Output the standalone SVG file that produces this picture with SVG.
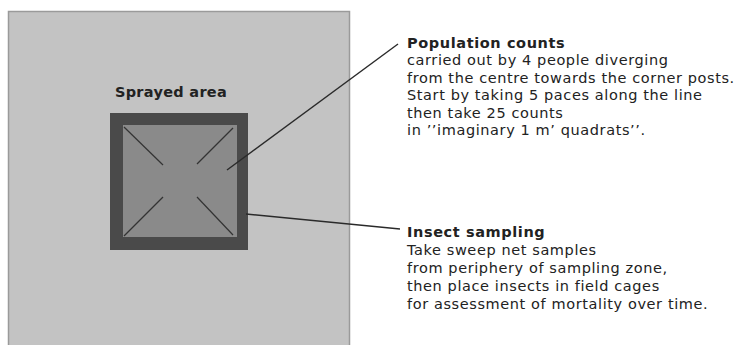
<svg xmlns="http://www.w3.org/2000/svg" width="744" height="345" viewBox="0 0 744 345">
<style>
.t{font-family:"DejaVu Sans","Liberation Sans",sans-serif;font-size:14.5px;letter-spacing:0.6px;fill:#222}
.b{font-weight:bold;letter-spacing:0.6px}
.s{letter-spacing:0.3px}
.ln{stroke:#2a2a2a;stroke-width:1.4;fill:none}
.d{stroke:#333;stroke-width:1.2}
</style>
<rect width="744" height="345" fill="#fff"/>
<g id="field">
<rect x="8.5" y="11.5" width="341" height="340" fill="#c3c3c3" stroke="#9a9a9a" stroke-width="1.5"/>
</g>
<g id="sprayed-area">
<rect x="110" y="113" width="138" height="137" fill="#4a4a4a"/>
<rect x="123" y="125" width="114" height="112" fill="#8a8a8a"/>
<line class="d" x1="124" y1="127" x2="163" y2="165"/>
<line class="d" x1="233" y1="128" x2="197" y2="164"/>
<line class="d" x1="163" y1="197" x2="124" y2="236"/>
<line class="d" x1="197" y1="197" x2="233" y2="235"/>
<text class="t b s" x="171" y="97" text-anchor="middle">Sprayed area</text>
</g>
<g id="connectors">
<line class="ln" x1="227" y1="170" x2="398" y2="44"/>
<line class="ln" x1="246" y1="214" x2="400" y2="229"/>
</g>
<g id="population-counts">
<text class="t">
<tspan class="b" x="407" y="47.5">Population counts</tspan>
<tspan x="407" y="65">carried out by 4 people diverging</tspan>
<tspan x="407" y="82.5">from the centre towards the corner posts.</tspan>
<tspan x="407" y="100">Start by taking 5 paces along the line</tspan>
<tspan x="407" y="117.5">then take 25 counts</tspan>
<tspan x="407" y="135">in ’’imaginary 1 m’ quadrats’’.</tspan>
</text>
</g>
<g id="insect-sampling">
<text class="t">
<tspan class="b" x="407" y="237">Insect sampling</tspan>
<tspan x="407" y="255">Take sweep net samples</tspan>
<tspan x="407" y="273">from periphery of sampling zone,</tspan>
<tspan x="407" y="291">then place insects in field cages</tspan>
<tspan x="407" y="309">for assessment of mortality over time.</tspan>
</text>
</g>
</svg>
